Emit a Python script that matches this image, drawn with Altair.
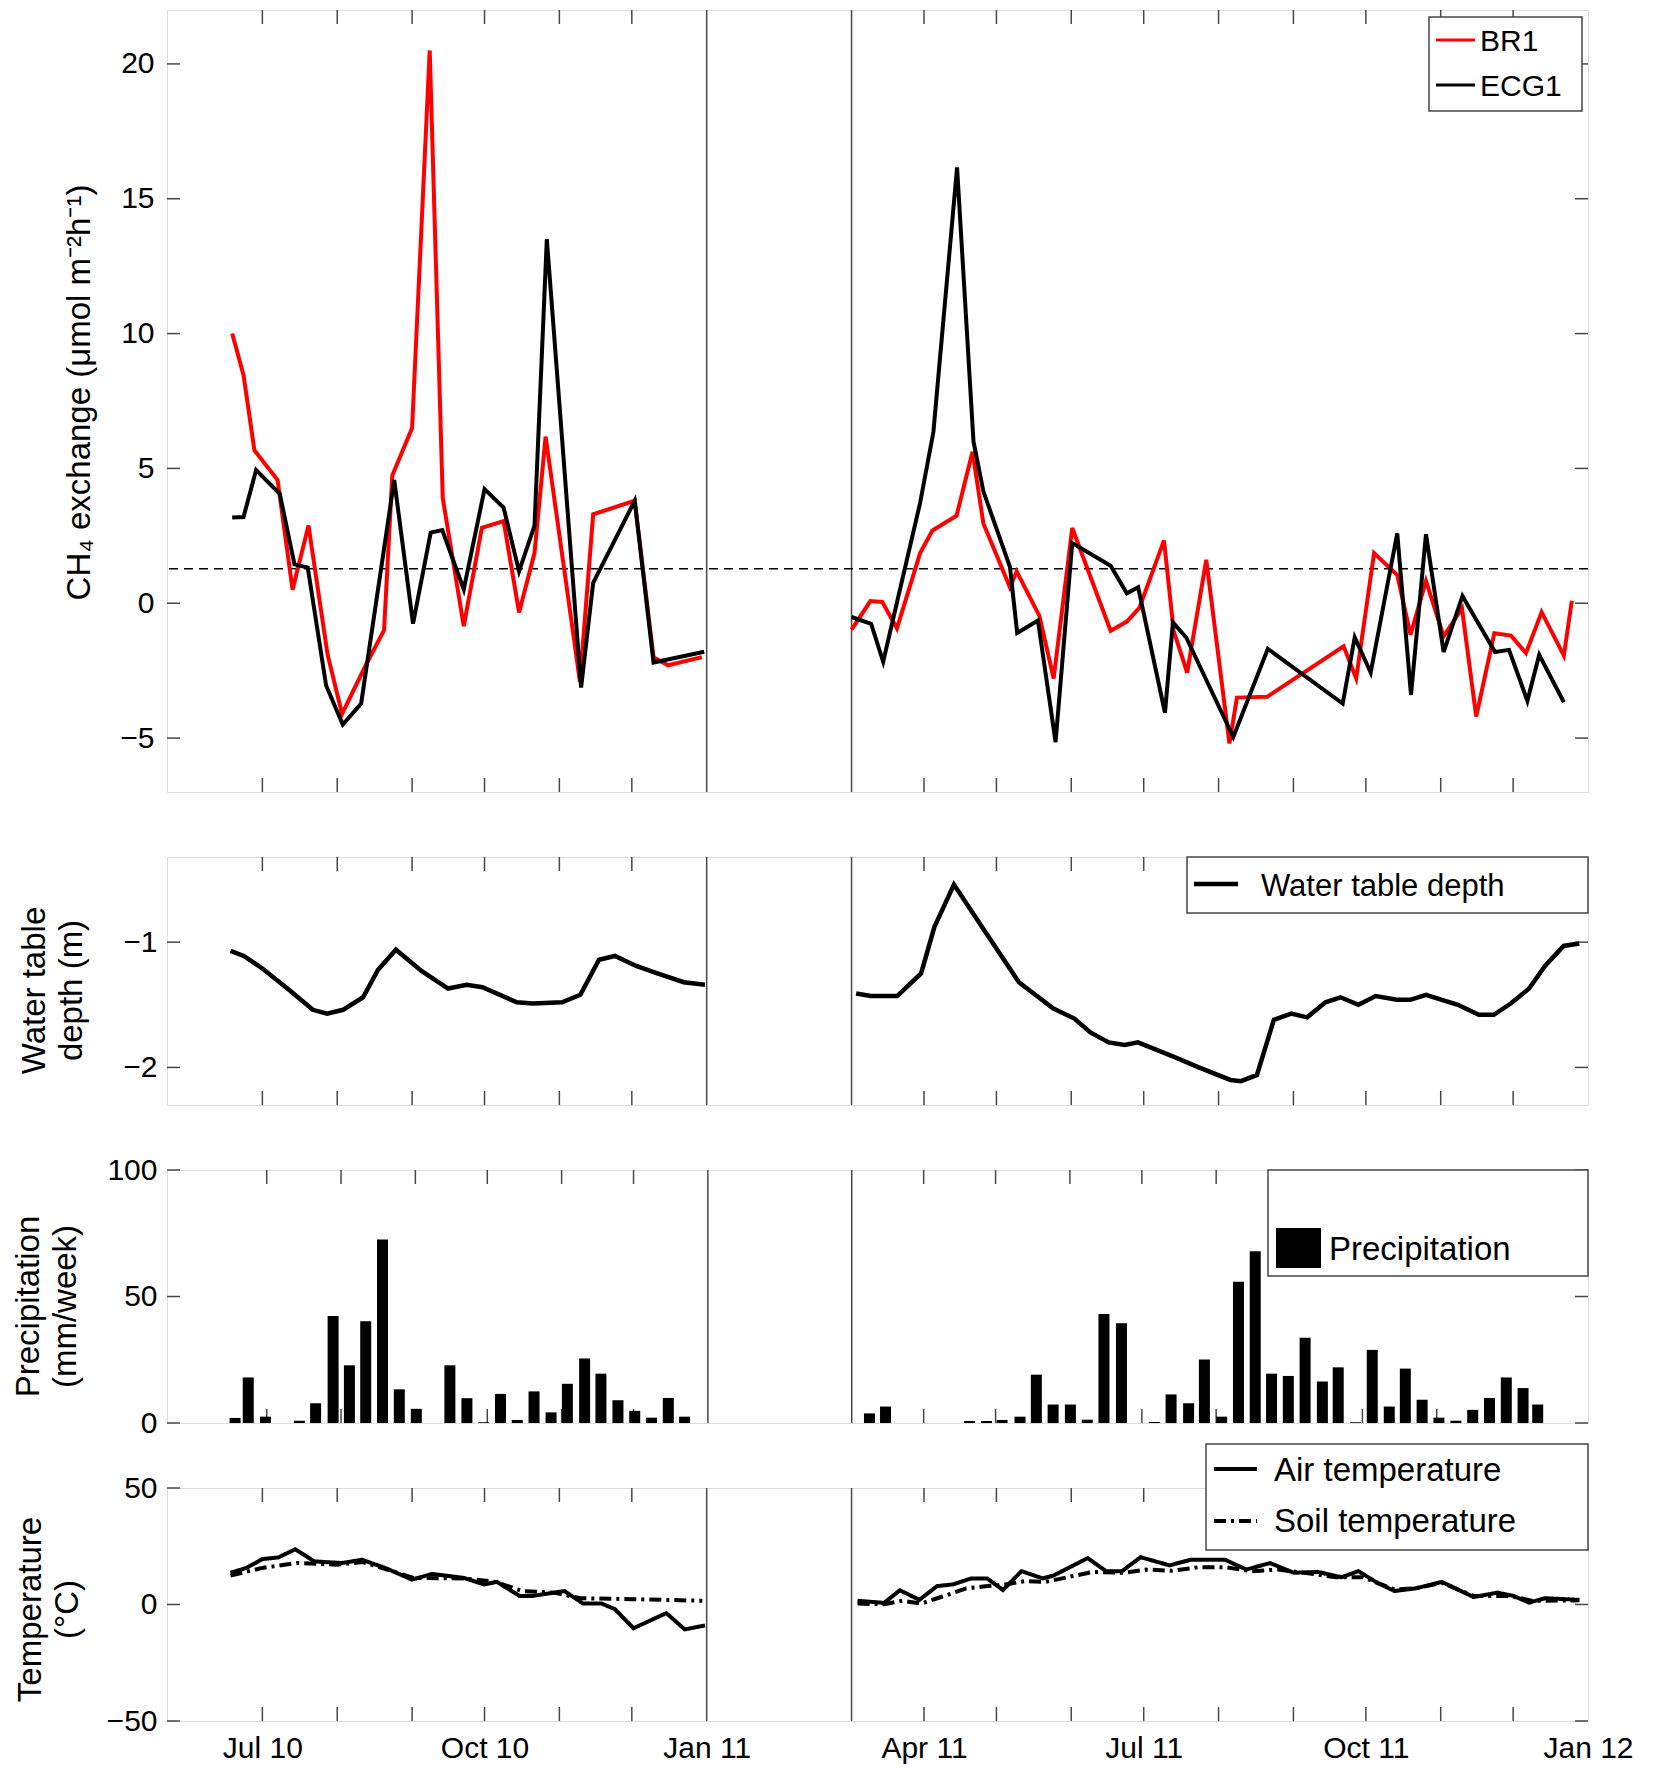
import altair as alt
import pandas as pd

# ---------------------------------------------------------------
# Data (x = days after 1 Jan 2011; negative values fall in 2010)
# ---------------------------------------------------------------
BR1_LEFT_DAYS = [-196.5, -191.8, -187.3, -177.7, -171.5, -164.9, -157.0, -151.0, -141.2, -133.6,
                 -130.2, -122.0, -114.7, -109.3, -100.6, -93.1, -84.1, -77.7, -71.3, -66.7,
                 -52.5, -47.0, -29.8, -22.0, -16.0, -2.0]
BR1_LEFT_VALS = [10.0, 8.46, 5.67, 4.57, 0.5, 2.88, -1.9, -4.1, -2.3, -1.0,
                 4.74, 6.5, 20.5, 3.9, -0.85, 2.8, 3.05, -0.34, 1.86, 6.18,
                 -2.9, 3.3, 3.8, -2.0, -2.3, -2.0]
BR1_RIGHT_DAYS = [60, 67.8, 72.7, 78.8, 88.4, 93.5, 103.5, 110.1, 114.6, 125.6, 128.4, 137.8,
                  143.7, 151.4, 167.3, 174.0, 179.2, 189.4, 193.4, 199.0, 206.9, 216.5, 219.6,
                  232.1, 263.8, 269.0, 276.4, 286.0, 291.5, 297.9, 305.2, 312.8, 318.7, 326.2,
                  333.1, 339.3, 345.8, 355.0, 358.3]
BR1_RIGHT_VALS = [-0.98, 0.08, 0.05, -0.93, 1.86, 2.7, 3.25, 5.62, 2.96, 0.59, 1.18, -0.47,
                  -2.79, 2.79, -1.02, -0.68, -0.17, 2.33, -1.02, -2.57, 1.61, -5.2, -3.5,
                  -3.47, -1.6, -2.79, 1.86, 1.05, -1.17, 0.83, -1.23, -0.19, -4.2, -1.11,
                  -1.2, -1.85, -0.33, -1.94, 0.09]

ECG1_LEFT_DAYS = [-196.5, -191.8, -186.6, -176.8, -170.7, -165.2, -157.6, -150.7, -143.1, -129.4,
                  -121.6, -114.3, -109.5, -100.6, -92.0, -84.1, -77.7, -71.3, -66.2, -52.0,
                  -47.0, -29.8, -22.0, -1.0]
ECG1_LEFT_VALS = [3.18, 3.2, 4.94, 4.06, 1.44, 1.32, -3.05, -4.5, -3.72, 4.57,
                  -0.76, 2.62, 2.71, 0.51, 4.23, 3.55, 1.18, 2.88, 13.5, -3.13,
                  0.76, 3.8, -2.2, -1.8]
ECG1_RIGHT_DAYS = [60, 68.1, 73.1, 88.4, 93.9, 103.7, 110.5, 114.6, 125.6, 128.6, 137.2, 144.5,
                   151.4, 167.3, 174.0, 178.7, 189.8, 193.1, 198.6, 218.1, 232.4, 263.4, 268.4,
                   275.0, 286.0, 291.7, 297.9, 305.2, 313.0, 326.5, 332.3, 339.9, 344.8, 355.0]
ECG1_RIGHT_VALS = [-0.51, -0.76, -2.17, 3.72, 6.35, 16.16, 6.0, 4.15, 1.35, -1.1, -0.64, -5.15,
                   2.23, 1.39, 0.37, 0.59, -4.06, -0.71, -1.27, -4.96, -1.69, -3.72, -1.27,
                   -2.57, 2.59, -3.4, 2.56, -1.81, 0.27, -1.81, -1.73, -3.62, -1.91, -3.67]
CH4_REFERENCE_LEVEL = 1.28

WTD_LEFT_DAYS = [-197.2, -191.7, -184.0, -173.0, -163.1, -157.2, -150.6, -142.3, -136.1, -128.7,
                 -118.1, -107.1, -99.4, -92.9, -78.6, -72.0, -59.9, -52.3, -44.6, -38.0,
                 -29.2, -20.4, -9.5, -0.7]
WTD_LEFT_VALS = [-1.07, -1.11, -1.21, -1.38, -1.54, -1.57, -1.54, -1.44, -1.22, -1.06,
                 -1.23, -1.37, -1.34, -1.36, -1.48, -1.49, -1.48, -1.42, -1.14, -1.11,
                 -1.19, -1.25, -1.32, -1.34]
WTD_RIGHT_DAYS = [61.9, 68.0, 78.9, 88.8, 94.3, 102.4, 116.2, 129.3, 143.6, 152.3, 158.9, 166.5,
                  173.1, 178.6, 192.8, 203.8, 216.9, 221.3, 227.9, 234.9, 242.1, 248.7, 256.3,
                  262.5, 269.9, 277.1, 285.9, 291.4, 297.9, 311.1, 319.8, 326.0, 333.0, 340.6,
                  347.2, 354.9, 361.4]
WTD_RIGHT_VALS = [-1.41, -1.43, -1.43, -1.25, -0.88, -0.54, -0.94, -1.32, -1.53, -1.61, -1.72, -1.80,
                  -1.82, -1.80, -1.91, -2.00, -2.10, -2.11, -2.06, -1.62, -1.57, -1.60, -1.48,
                  -1.44, -1.50, -1.43, -1.46, -1.46, -1.42, -1.50, -1.58, -1.58, -1.49, -1.37,
                  -1.19, -1.03, -1.01]

PRECIP_DAYS = [-197.2, -191.7, -184.5, -170.4, -163.6, -156.3, -149.5, -142.7, -135.7, -128.7,
               -121.6, -107.6, -100.5, -93.5, -86.5, -79.5, -72.5, -65.4, -58.6, -51.4,
               -44.6, -37.5, -30.5, -23.5, -16.5, -9.7,
               67.4, 74.1, 109.2, 116.2, 122.7, 130.2, 137.0, 144.0, 151.2, 158.2, 165.2, 172.5,
               186.2, 193.2, 200.5, 207.1, 214.3, 221.3, 228.3, 235.1, 242.1, 249.1, 256.3, 262.9,
               270.1, 277.1, 284.2, 290.9, 297.9, 304.9, 312.0, 319.0, 326.0, 333.0, 340.0, 346.1]
PRECIP_VALS = [2.0, 18.0, 2.5, 0.9, 7.8, 42.3, 22.8, 40.2, 72.5, 13.3,
               5.6, 22.8, 9.8, 0.3, 11.5, 1.2, 12.5, 4.2, 15.5, 25.5,
               19.5, 9.0, 4.8, 2.1, 9.9, 2.5,
               3.8, 6.5, 0.8, 0.8, 1.2, 2.5, 19.1, 7.3, 7.3, 1.3, 43.1, 39.4,
               0.4, 11.3, 7.8, 25.1, 2.5, 55.8, 67.9, 19.5, 18.6, 33.7, 16.4, 22.0,
               0.3, 28.9, 6.5, 21.5, 9.2, 2.1, 0.9, 5.2, 9.9, 18.0, 13.8, 7.3]

AIR_LEFT_DAYS = [-197.2, -190.6, -184.0, -177.4, -170.4, -162.5, -151.1, -142.7, -132.4, -122.1,
                 -113.7, -100.5, -92.2, -86.9, -77.5, -72.0, -58.9, -51.2, -43.5, -38.0,
                 -30.3, -16.7, -9.1, -0.7]
AIR_LEFT_VALS = [13.6, 15.7, 19.5, 20.2, 23.7, 18.5, 17.8, 19.2, 15.4, 10.7,
                 13.1, 11.4, 8.6, 9.7, 3.7, 3.7, 5.8, 0.4, 0.4, -2.0,
                 -10.2, -3.7, -10.7, -9.0]
SOIL_LEFT_DAYS = [-197.2, -184.0, -169.7, -153.3, -142.3, -132.4, -121.4, -100.5, -87.4, -76.4,
                  -63.3, -52.3, -30.3, -1.8]
SOIL_LEFT_VALS = [12.4, 15.7, 17.8, 17.1, 18.2, 15.0, 11.4, 11.2, 9.7, 5.8,
                  5.1, 2.7, 2.3, 1.6]
AIR_RIGHT_DAYS = [62.5, 73.5, 80.0, 88.1, 95.4, 101.9, 109.6, 116.2, 122.7, 130.4, 139.2, 143.6,
                  157.8, 165.4, 172.0, 179.7, 191.7, 200.5, 214.7, 223.5, 233.3, 243.2, 253.1,
                  262.9, 269.9, 277.1, 284.8, 293.5, 304.5, 317.6, 327.5, 334.1, 340.6, 347.2, 361.4]
AIR_RIGHT_VALS = [1.6, 0.7, 6.1, 2.0, 7.9, 8.6, 11.2, 11.2, 6.2, 14.3, 11.2, 12.4,
                  19.9, 14.3, 14.3, 20.3, 16.8, 19.2, 19.2, 15.0, 17.8, 13.6, 14.0,
                  11.7, 14.3, 9.7, 5.8, 6.9, 9.7, 3.2, 5.1, 3.7, 0.8, 2.7, 2.0]
SOIL_RIGHT_DAYS = [62.5, 73.5, 81.1, 88.8, 96.5, 107.5, 116.2, 123.8, 131.5, 140.3, 151.2, 160.0,
                   173.1, 181.9, 192.8, 203.8, 214.7, 225.6, 236.6, 247.5, 260.7, 271.6, 284.8,
                   293.5, 304.5, 317.6, 332.9, 341.7, 361.4]
SOIL_RIGHT_VALS = [0.4, 0.1, 1.6, 0.4, 3.0, 6.9, 7.9, 8.6, 10.0, 9.7, 12.1, 14.0,
                   13.6, 15.0, 14.5, 16.0, 16.0, 14.3, 15.0, 13.6, 11.7, 11.7, 6.5,
                   6.9, 9.3, 3.7, 3.7, 1.6, 1.8]

CH4_SERIES = ["BR1", "ECG1"]
CH4_COLORS = ["#ff0000", "#000000"]
WTD_LABEL = "Water table depth"
PRECIP_LABEL = "Precipitation"
TEMP_SERIES = ["Air temperature", "Soil temperature"]

GAP_DAYS = [0, 60]                      # data gap: 1 Jan - 2 Mar 2011
TICK_MONTHS = [(2010, 7), (2010, 8), (2010, 9), (2010, 10), (2010, 11), (2010, 12),
               (2011, 4), (2011, 5), (2011, 6), (2011, 7), (2011, 8), (2011, 9),
               (2011, 10), (2011, 11), (2011, 12)]
LABEL_MONTHS = [(2010, 7), (2010, 10), (2011, 1), (2011, 4), (2011, 7), (2011, 10), (2012, 1)]

CH4_TICKS = [-5, 0, 5, 10, 15, 20]
WTD_TICKS = [-2, -1]
PRECIP_TICKS = [0, 50, 100]
TEMP_TICKS = [-50, 0, 50]

# ---------------------------------------------------------------
# Helpers
# ---------------------------------------------------------------
BASE = pd.Timestamp("2011-01-01")
FONT = "Liberation Sans"
FRAME = "#474747"
W = 1421
H1, H2, H3, H4 = 782, 248, 253, 233
TL = 14  # tick length


def to_dates(days):
    return [BASE + pd.Timedelta(days=float(d)) for d in days]


def seg(series, part, days, vals):
    return pd.DataFrame({"date": to_dates(days), "value": vals, "series": series, "part": part})


X_SCALE = alt.Scale(domain=[alt.DateTime(year=2010, month=5, date=22, hours=12),
                            alt.DateTime(year=2012, month=1, date=1)])
ONE = pd.DataFrame({"k": [0]})


def xenc(axis_on, axis=None):
    if axis_on:
        if axis is None:
            return alt.X("date:T", scale=X_SCALE)
        return alt.X("date:T", scale=X_SCALE, axis=axis)
    return alt.X("date:T", scale=X_SCALE, axis=None)


def frame_layers(h, yscale, yvals, x_on):
    layers = []
    layers.append(alt.Chart(pd.DataFrame({"date": to_dates(GAP_DAYS)})).mark_rule(
        color=FRAME, strokeWidth=1.5).encode(x=xenc(x_on)))
    tdf = pd.DataFrame({"date": [pd.Timestamp(year=y, month=m, day=1) for y, m in TICK_MONTHS]})
    layers.append(alt.Chart(tdf).mark_rule(color=FRAME, strokeWidth=1.5).encode(
        x=xenc(x_on), y=alt.value(0), y2=alt.value(TL)))
    layers.append(alt.Chart(tdf).mark_rule(color=FRAME, strokeWidth=1.5).encode(
        x=xenc(x_on), y=alt.value(h - TL), y2=alt.value(h)))
    ydf = pd.DataFrame({"value": yvals})
    layers.append(alt.Chart(ydf).mark_rule(color=FRAME, strokeWidth=1.5).encode(
        y=alt.Y("value:Q", scale=yscale), x=alt.value(0), x2=alt.value(TL - 1)))
    layers.append(alt.Chart(ydf).mark_rule(color=FRAME, strokeWidth=1.5).encode(
        y=alt.Y("value:Q", scale=yscale), x=alt.value(W - TL + 1), x2=alt.value(W)))
    return layers


def yaxis(vals, title, tx, ty, pad=10):
    return alt.Axis(values=vals, format="d", ticks=False, tickSize=0, domain=False, grid=False,
                    labelFontSize=30, labelFont=FONT, labelColor="black", labelPadding=pad,
                    title=title, titleFont=FONT, titleFontSize=33, titleFontWeight="normal",
                    titleColor="black", titleAngle=270, titleAlign="center",
                    titleBaseline="middle", titleLineHeight=37, titleX=tx, titleY=ty)


def box(x0, x1, y0, y1):
    return alt.Chart(ONE).mark_rect(fill="white", stroke=FRAME, strokeWidth=1.5).encode(
        x=alt.value(x0), x2=alt.value(x1), y=alt.value(y0), y2=alt.value(y1))


def sample(x0, x1, y, color="black", dash=None, width=3):
    kw = dict(color=color, strokeWidth=width)
    if dash:
        kw["strokeDash"] = dash
    return alt.Chart(ONE).mark_rule(**kw).encode(
        x=alt.value(x0), x2=alt.value(x1), y=alt.value(y))


def label(text, x, y, size):
    return alt.Chart(pd.DataFrame({"t": [text]})).mark_text(
        align="left", baseline="middle", font=FONT, fontSize=size, color="black").encode(
        x=alt.value(x), y=alt.value(y), text="t:N")


# ---------------------------------------------------------------
# Panel 1 : CH4 exchange
# ---------------------------------------------------------------
ch4 = pd.concat([
    seg(CH4_SERIES[0], "BR1a", BR1_LEFT_DAYS, BR1_LEFT_VALS),
    seg(CH4_SERIES[0], "BR1b", BR1_RIGHT_DAYS, BR1_RIGHT_VALS),
    seg(CH4_SERIES[1], "ECG1a", ECG1_LEFT_DAYS, ECG1_LEFT_VALS),
    seg(CH4_SERIES[1], "ECG1b", ECG1_RIGHT_DAYS, ECG1_RIGHT_VALS),
])
y1 = alt.Scale(domain=[-7, 22], nice=False, zero=False)
ch4_line = alt.Chart(ch4).mark_line(strokeWidth=4).encode(
    x=xenc(False),
    y=alt.Y("value:Q", scale=y1,
            axis=yaxis(CH4_TICKS, "CH\u2084 exchange (\u03bcmol m\u207b\u00b2h\u207b\u00b9)", -88, 382, 13)),
    color=alt.Color("series:N", scale=alt.Scale(domain=CH4_SERIES, range=CH4_COLORS), legend=None),
    detail="part:N",
)
ref = alt.Chart(pd.DataFrame({"value": [CH4_REFERENCE_LEVEL]})).mark_rule(
    color="black", strokeWidth=1.5, strokeDash=[9, 6]).encode(y=alt.Y("value:Q", scale=y1))
p1 = alt.layer(
    *frame_layers(H1, y1, CH4_TICKS, False), ref, ch4_line,
    box(1262, 1415, 7, 101),
    sample(1269, 1308, 30, CH4_COLORS[0]), label(CH4_SERIES[0], 1313, 32, 30),
    sample(1269, 1308, 75, CH4_COLORS[1]), label(CH4_SERIES[1], 1313, 77, 30),
).properties(width=W, height=H1)

# ---------------------------------------------------------------
# Panel 2 : water table depth
# ---------------------------------------------------------------
wtd = pd.concat([
    seg(WTD_LABEL, "a", WTD_LEFT_DAYS, WTD_LEFT_VALS),
    seg(WTD_LABEL, "b", WTD_RIGHT_DAYS, WTD_RIGHT_VALS),
])
y2 = alt.Scale(domain=[-2.3, -0.32], nice=False, zero=False)
wtd_line = alt.Chart(wtd).mark_line(strokeWidth=4.5, color="black").encode(
    x=xenc(False),
    y=alt.Y("value:Q", scale=y2, axis=yaxis(WTD_TICKS, ["Water table", "depth (m)"], -133, 133)),
    detail="part:N",
)
p2 = alt.layer(
    *frame_layers(H2, y2, WTD_TICKS, False), wtd_line,
    box(1020, W, 0, 56),
    sample(1027, 1071, 27, "black", None, 4.5), label(WTD_LABEL, 1094, 30, 31),
).properties(width=W, height=H2)

# ---------------------------------------------------------------
# Panel 3 : precipitation
# ---------------------------------------------------------------
pr = pd.DataFrame({"date": to_dates(PRECIP_DAYS), "value": PRECIP_VALS})
y3 = alt.Scale(domain=[0, 100], nice=False)
bars = alt.Chart(pr).mark_bar(size=11, color="black").encode(
    x=xenc(False),
    y=alt.Y("value:Q", scale=y3, axis=yaxis(PRECIP_TICKS, ["Precipitation", "(mm/week)"], -139, 136)),
)
p3 = alt.layer(
    *frame_layers(H3, y3, PRECIP_TICKS, False), bars,
    box(1101, W, 0, 106),
    alt.Chart(ONE).mark_rect(color="black").encode(
        x=alt.value(1109), x2=alt.value(1154), y=alt.value(58), y2=alt.value(98)),
    label(PRECIP_LABEL, 1162, 80, 33),
).properties(width=W, height=H3)

# ---------------------------------------------------------------
# Panel 4 : temperature
# ---------------------------------------------------------------
temp = pd.concat([
    seg(TEMP_SERIES[0], "air_a", AIR_LEFT_DAYS, AIR_LEFT_VALS),
    seg(TEMP_SERIES[0], "air_b", AIR_RIGHT_DAYS, AIR_RIGHT_VALS),
    seg(TEMP_SERIES[1], "soil_a", SOIL_LEFT_DAYS, SOIL_LEFT_VALS),
    seg(TEMP_SERIES[1], "soil_b", SOIL_RIGHT_DAYS, SOIL_RIGHT_VALS),
])
y4 = alt.Scale(domain=[-50, 50], nice=False)
xaxis = alt.Axis(values=[alt.DateTime(year=y, month=m, date=1) for y, m in LABEL_MONTHS],
                 format="%b %y", ticks=False, tickSize=0, domain=False, grid=False,
                 labelFontSize=30, labelFont=FONT, labelColor="black", labelPadding=12,
                 labelFlush=False, labelOverlap=False, title=None)
temp_line = alt.Chart(temp).mark_line(strokeWidth=4, color="black").encode(
    x=xenc(True, xaxis),
    y=alt.Y("value:Q", scale=y4, axis=yaxis(TEMP_TICKS, ["Temperature", "(\u00b0C)"], -137, 121)),
    strokeDash=alt.StrokeDash("series:N", scale=alt.Scale(domain=TEMP_SERIES,
                                                          range=[[1, 0], [12, 5, 3, 5]]), legend=None),
    detail="part:N",
)
p4 = alt.layer(
    temp_line, *frame_layers(H4, y4, TEMP_TICKS, True),
    box(1039, W, -44, 62),
    sample(1047, 1090, -19, "black", None, 4), label(TEMP_SERIES[0], 1107, -17, 33),
    sample(1047, 1090, 33, "black", [12, 5, 3, 5], 4), label(TEMP_SERIES[1], 1107, 34, 33),
).properties(width=W, height=H4)

chart = alt.vconcat(p1, p2, p3, p4, spacing=65, bounds="flush").properties(
    padding={"left": 3, "top": 0, "right": 0, "bottom": 0}
).configure_view(stroke=FRAME, strokeWidth=1.5).configure(font=FONT)

chart.save("out.html", embed_options={"renderer": "svg", "actions": False})
